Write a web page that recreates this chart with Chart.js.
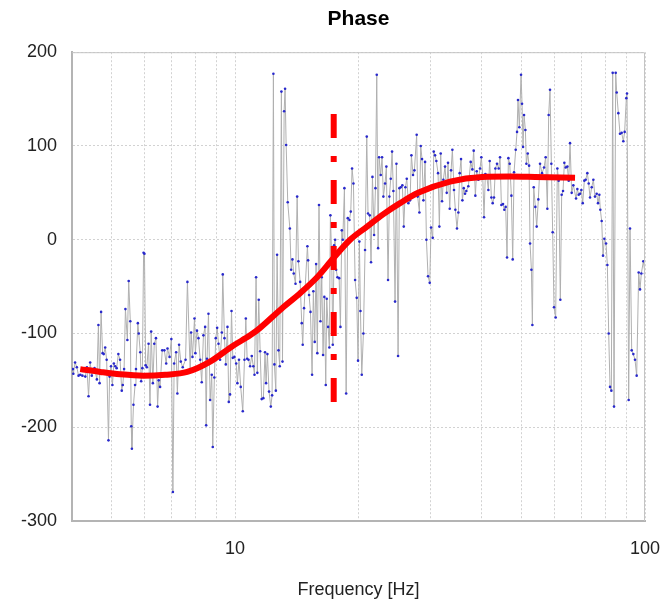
<!DOCTYPE html>
<html>
<head>
<meta charset="utf-8">
<script src="https://cdn.jsdelivr.net/npm/chart.js@4.4.1/dist/chart.umd.min.js"></script>
<style>
  html, body { margin: 0; padding: 0; background: #fff; }
</style>
</head>
<body>
<canvas id="phase" width="668" height="604"></canvas>
<script>
// measured phase: [frequency Hz, phase deg]
const measured = [
  [4.02,-138],[4.03,-143],[4.07,-131],[4.11,-136],[4.15,-145],[4.19,-144],[4.24,-145],[4.31,-146],[4.35,-136],[4.39,-167],
  [4.43,-131],[4.47,-145],[4.54,-137],[4.60,-149],[4.64,-91],[4.67,-153],[4.71,-77],[4.75,-121],[4.78,-122],[4.82,-115],
  [4.86,-128],[4.91,-214],[4.94,-146],[4.98,-135],[5.02,-155],[5.06,-132],[5.10,-135],[5.14,-137],[5.19,-122],[5.24,-128],
  [5.29,-161],[5.32,-155],[5.36,-138],[5.40,-74],[5.46,-107],[5.50,-44],[5.55,-87],[5.58,-199],[5.60,-223],[5.65,-176],
  [5.70,-155],[5.73,-138],[5.79,-89],[5.82,-100],[5.87,-120],[5.90,-151],[5.94,-137],[5.98,-14],[6.01,-15],[6.05,-134],
  [6.09,-136],[6.15,-111],[6.20,-176],[6.24,-98],[6.30,-153],[6.35,-111],[6.41,-105],[6.47,-178],[6.51,-150],[6.56,-157],
  [6.64,-118],[6.72,-118],[6.79,-132],[6.84,-116],[6.92,-125],[6.99,-106],[7.05,-269],[7.10,-132],[7.18,-120],[7.23,-164],
  [7.30,-112],[7.37,-130],[7.45,-136],[7.57,-128],[7.65,-45],
  [7.77,-141],[7.81,-99],[7.87,-125],[7.96,-84],[8.00,-121],[8.07,-97],[8.14,-105],[8.22,-128],[8.29,-152],[8.37,-102],
  [8.45,-93],[8.50,-198],[8.54,-127],[8.61,-79],[8.69,-171],[8.77,-144],[8.82,-221],[8.90,-147],[8.97,-105],[9.04,-94],
  [9.11,-111],[9.19,-128],[9.28,-99],[9.33,-37],[9.42,-105],[9.49,-133],[9.58,-93],[9.65,-173],[9.72,-165],[9.80,-76],
  [9.87,-126],[9.96,-125],[10.06,-132],[10.13,-153],[10.22,-128],[10.32,-157],[10.44,-183],[10.54,-128],[10.62,-84],[10.70,-127],
  [10.78,-128],[10.88,-135],[10.98,-124],[11.08,-135],[11.15,-144],[11.25,-40],[11.33,-142],[11.42,-64],[11.51,-119],[11.61,-170],
  [11.72,-169],[11.83,-120],[11.90,-153],[11.99,-122],[12.10,-162],[12.22,-178],[12.31,-166],[12.40,177],[12.47,-133],[12.57,-161],
  [12.66,-16],[12.76,-118],[12.85,-135],[12.97,158],[13.05,-130],[13.17,137],[13.24,161],[13.32,101],[13.44,40],[13.60,12],
  [13.70,-32],[13.80,-21],[13.90,-36],[14.04,-47],[14.17,46],[14.27,-23],[14.41,-45],[14.54,-89],[14.62,-112],[14.73,-73],
  [15.01,-7],[15.07,-22],[15.15,-59],[15.27,-77],[15.41,-144],[15.52,-55],[15.64,-109],[15.76,-26],[15.87,-121],[16.02,37],
  [16.15,-87],[16.27,-40],[16.39,-123],[16.51,-61],[16.64,-155],[16.73,-63],[16.86,-93],[16.98,-115],[17.08,26],[17.21,-22],
  [17.31,-112],[17.44,-6],[17.54,0],[17.64,-32],[17.77,-40],[17.94,-41],[18.07,-93],[18.21,10],[18.31,0],[18.48,55],
  [18.66,-164],[18.83,23],[19.01,21],[19.15,30],[19.29,76],[19.44,60],[19.62,-43],[19.80,-62],[19.95,-129],[20.10,-2],
  [20.22,-76],[20.37,-144],[20.56,-100],[20.75,-11],[20.95,110],[21.10,28],[21.30,26],[21.46,-24],[21.63,67],[21.83,5],
  [22.00,55],[22.16,176],[22.33,-9],[22.45,88],[22.66,69],[22.83,88],[23.00,46],[23.22,60],[23.39,78],[23.61,-43],
  [23.79,46],[23.97,65],[24.15,94],[24.33,52],[24.56,-66],[24.75,81],[24.98,-124],[25.17,55],[25.36,56],[25.59,58],
  [25.79,14],[26.03,56],[26.23,65],[26.47,39],[26.72,42],[26.92,90],[27.17,69],[27.38,74],[27.73,112],
  [27.89,46],[28.16,29],[28.37,100],[28.58,86],[28.80,42],[29.07,83],[29.29,0],[29.56,-39],[29.84,-46],[30.06,13],
  [30.35,2],[30.52,94],[30.75,90],[30.97,84],[31.27,71],[31.50,14],[31.74,92],[31.98,41],[32.22,64],[32.52,78],
  [32.83,50],[33.07,82],[33.39,33],[33.64,74],[33.89,96],[34.20,53],[34.46,32],[34.78,12],[35.05,29],[35.31,71],
  [35.58,86],[35.85,42],[36.12,55],[36.39,49],[36.66,52],[37.07,57],[37.56,83],[37.92,75],[38.20,95],[38.56,47],
  [38.85,73],[39.22,64],[39.58,76],[39.88,88],[40.18,69],[40.48,24],[40.79,70],[41.10,69],[41.48,53],[41.79,84],
  [42.19,45],[42.50,39],[42.82,45],[43.15,76],[43.55,81],[43.96,76],[44.29,88],[44.63,37],[45.04,38],[45.38,32],
  [45.72,35],[46.07,-19],[46.42,87],[46.77,81],[47.21,47],[47.56,-21],[47.92,72],[48.37,96],[48.73,115],[49.00,149],
  [49.37,120],[49.84,176],[50.12,145],[50.40,99],[50.69,133],[51.07,117],[51.36,81],[51.75,92],[52.14,79],[52.43,-4],
  [52.83,-32],[53.12,-91],[53.52,56],
  [54.01,35],[54.42,14],[54.93,43],[55.45,81],[56.08,71],[56.71,77],[57.24,88],[57.78,33],[58.21,133],[58.65,160],
  [59.09,81],[59.53,8],[59.98,-72],[60.54,-83],[61.12,76],[61.57,63],[62.15,-64],[62.62,48],[63.10,52],[63.57,82],
  [64.05,77],[64.65,78],[65.14,63],[65.63,103],[66.24,50],[66.87,58],[67.88,44],[68.39,54],[68.90,48],[69.42,49],
  [69.94,53],[70.47,39],[71.12,63],[71.66,64],[72.33,71],[72.88,60],[73.43,45],[74.13,56],[74.82,64],[75.51,46],
  [76.23,49],[76.80,39],[77.38,48],[77.81,32],[78.40,20],[78.99,-17],[79.58,1],[80.34,-4],[80.94,-27],[81.55,-100],
  [82.16,-157],[82.78,-161],[83.40,178],[84.03,-178],[84.82,178],[85.30,157],[86.10,135],[86.90,113],[87.72,114],[88.54,105],
  [89.20,115],[90.05,151],[90.39,156],[91.24,-171],[91.93,12],[92.80,-118],[93.66,-122],[94.54,-128],[95.43,-145],[96.51,-35],
  [97.23,-53],[97.97,-36],[99.07,-23],[100,-36]
];

// fitted phase curve
const fitFreq  = [4.19, 4.69, 5.24, 5.97, 6.75, 7.64, 8.69, 9.89, 10.88, 11.51, 13.10, 14.41, 15.85, 17.34, 19.08, 20.99, 22.96, 25.26, 27.95, 33.45, 40.04, 46.86, 53.92, 67.5];
const fitPhase = [-138, -141, -143.5, -145, -144, -141, -130, -113, -102, -94, -72, -57, -40, -20, 0, 14, 27, 39, 50, 62, 67, 67.5, 67, 66];

// dash-dot marker
const markerFreq = 17.4;
const markerPhase = [134, -173];

const xGridTicks = [4, 5, 6, 7, 8, 9, 10, 20, 30, 40, 50, 60, 70, 80, 90, 100];
const xLabelTicks = [10, 100];
const yMin = -300, yMax = 200, yStep = 100;

const FONT = 'Liberation Sans, Arial, Helvetica, sans-serif';

// solid frame round the plot area
const plotFrame = {
  id: 'plotFrame',
  afterDatasetsDraw(chart) {
    const { ctx, chartArea: a } = chart;
    ctx.save();
    ctx.strokeStyle = '#c4c4c4';
    ctx.lineWidth = 1;
    ctx.beginPath();
    ctx.moveTo(a.left, a.top + 0.5);
    ctx.lineTo(a.right - 0.5, a.top + 0.5);
    ctx.lineTo(a.right - 0.5, a.bottom);
    ctx.stroke();
    ctx.restore();
  }
};

new Chart(document.getElementById('phase'), {
  type: 'line',
  data: {
    datasets: [
      {
        data: markerPhase.map(p => ({ x: markerFreq, y: p })),
        borderColor: '#ff0000',
        borderWidth: 6,
        borderDash: [24, 18, 6, 18],
        borderCapStyle: 'butt',
        pointRadius: 0,
        order: 0
      },
      {
        data: fitFreq.map((f, i) => ({ x: f, y: fitPhase[i] })),
        borderColor: '#ff0000',
        borderWidth: 6,
        cubicInterpolationMode: 'monotone',
        pointRadius: 0,
        order: 1
      },
      {
        data: measured.map(d => ({ x: d[0], y: d[1] })),
        borderColor: '#b0b0b0',
        borderWidth: 1,
        tension: 0,
        pointRadius: 1.3,
        pointBorderWidth: 0,
        pointBackgroundColor: '#2828cc',
        order: 2
      }
    ]
  },
  options: {
    responsive: false,
    animation: false,
    devicePixelRatio: 1,
    layout: { padding: { left: 0, right: 23, top: 0, bottom: 0 } },
    plugins: {
      legend: { display: false },
      tooltip: { enabled: false },
      title: {
        display: true,
        fullSize: false,
        text: 'Phase',
        color: '#000',
        font: { family: FONT, size: 21, weight: 'bold' },
        padding: { top: 7, bottom: 20 }
      }
    },
    scales: {
      x: {
        type: 'logarithmic',
        min: 4,
        max: 100,
        afterBuildTicks: s => { s.ticks = xGridTicks.map(v => ({ value: v })); },
        afterFit: s => { s.height = 83; s.paddingLeft = 0; s.paddingRight = 0; },
        ticks: {
          autoSkip: false,
          maxRotation: 0,
          padding: 17,
          color: '#222',
          font: { family: FONT, size: 18 },
          callback: v => (xLabelTicks.includes(v) ? String(v) : '')
        },
        grid: { color: '#d2d2d2', drawTicks: false },
        border: { color: '#b4b4b4', width: 2, dash: [2, 2] },
        title: {
          display: true,
          text: 'Frequency [Hz]',
          color: '#222',
          font: { family: FONT, size: 18 },
          padding: { top: 0, bottom: 3 }
        }
      },
      y: {
        min: yMin,
        max: yMax,
        afterFit: s => { s.width = 72; s.paddingTop = 0; s.paddingBottom = 0; },
        ticks: {
          stepSize: yStep,
          padding: 15,
          color: '#222',
          font: { family: FONT, size: 18 }
        },
        grid: { color: '#d2d2d2', drawTicks: false },
        border: { color: '#b4b4b4', width: 2, dash: [2, 2] }
      }
    }
  },
  plugins: [plotFrame]
});
</script>
</body>
</html>
